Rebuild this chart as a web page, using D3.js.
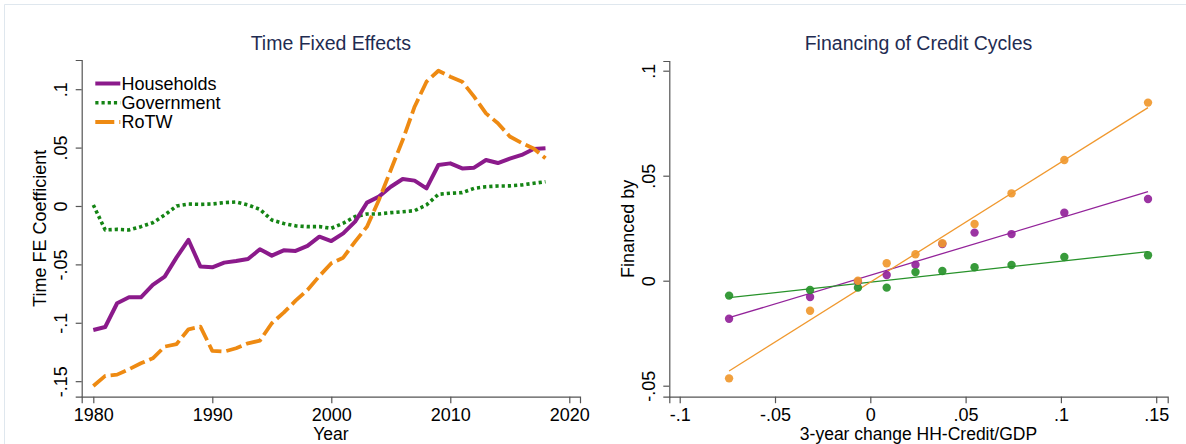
<!DOCTYPE html>
<html>
<head>
<meta charset="utf-8">
<script src="https://cdn.jsdelivr.net/npm/d3@7"></script>
<style>
  html, body { margin: 0; padding: 0; background: #fff; }
  svg { display: block; }
  text { font-family: "Liberation Sans", Arial, sans-serif; }
</style>
</head>
<body>
<svg id="chart" width="1186" height="444"></svg>
<script>
// ---------- Data: left panel (Time Fixed Effects) ----------
const years = d3.range(1980, 2019);
const households = [-0.1062, -0.1036, -0.0833, -0.0782, -0.0782, -0.0676, -0.0605, -0.0440, -0.0291, -0.0519,
  -0.0525, -0.0485, -0.0471, -0.0454, -0.0371, -0.0425, -0.0380, -0.0385, -0.0342, -0.0263,
  -0.0300, -0.0234, -0.0134, 0.0029, 0.0080, 0.0165, 0.0231, 0.0217, 0.0151, 0.0351,
  0.0365, 0.0322, 0.0328, 0.0394, 0.0368, 0.0405, 0.0437, 0.0488, 0.0494];
const government = [0.0009, -0.0205, -0.0200, -0.0205, -0.0177, -0.0143, -0.0077, 0.0000, 0.0017, 0.0014,
  0.0017, 0.0029, 0.0034, 0.0009, -0.0029, -0.0120, -0.0150, -0.0170, -0.0177, -0.0177,
  -0.0191, -0.0148, -0.0091, -0.0068, -0.0068, -0.0057, -0.0049, -0.0040, 0.0009, 0.0100,
  0.0109, 0.0114, 0.0151, 0.0165, 0.0171, 0.0172, 0.0180, 0.0194, 0.0208];
const rotw = [-0.1541, -0.1455, -0.1444, -0.1398, -0.1347, -0.1304, -0.1204, -0.1182, -0.1056, -0.1033,
  -0.1241, -0.1247, -0.1218, -0.1176, -0.1153, -0.1004, -0.0913, -0.0811, -0.0719, -0.0600,
  -0.0490, -0.0443, -0.0305, -0.0177, 0.0051, 0.0308, 0.0565, 0.0850, 0.1064, 0.1158,
  0.1107, 0.1064, 0.0936, 0.0793, 0.0708, 0.0595, 0.0540, 0.0492, 0.0408];
const leftXTicks = [1980, 1990, 2000, 2010, 2020];
const leftYTicks = [-0.15, -0.1, -0.05, 0, 0.05, 0.1];
const leftYTickLabels = ["-.15", "-.1", "-.05", "0", ".05", ".1"];
const legendLabels = ["Households", "Government", "RoTW"];

// ---------- Data: right panel (Financing of Credit Cycles) ----------
const binX = [-0.0741, -0.0316, -0.0065, 0.0086, 0.0237, 0.0378, 0.0547, 0.0741, 0.1018, 0.1457];
const binHH = [-0.0181, -0.0078, -0.0005, 0.0027, 0.0076, 0.0175, 0.0229, 0.0222, 0.0324, 0.0389];
const binGov = [-0.0071, -0.0044, -0.0033, -0.0033, 0.0041, 0.0046, 0.0064, 0.0075, 0.0113, 0.0121];
const binRoTW = [-0.0465, -0.0143, 0.0000, 0.0083, 0.0126, 0.0178, 0.0270, 0.0416, 0.0575, 0.0848];
const fitSeries = ["HH", "Gov", "RoTW"];
const fitSlopes = [0.273, 0.0996, 0.5705];
const fitIntercepts = [0.0026, -0.0007, -0.0007];
const rightXTicks = [-0.1, -0.05, 0, 0.05, 0.1, 0.15];
const rightXTickLabels = ["-.1", "-.05", "0", ".05", ".1", ".15"];
const rightYTicks = [-0.05, 0, 0.05, 0.1];
const rightYTickLabels = ["-.05", "0", ".05", ".1"];

// ---------- Styles ----------
const COLORS = { HH: "#8b1a8b", Gov: "#148414", RoTW: "#ee8a12" };
const MARKER = { HH: "#93239a", Gov: "#27922a", RoTW: "#f0982e" };
const TITLE_COLOR = "#1f2c52";
const AXIS_COLOR = "#555";
const FONT = 18;

const svg = d3.select("#chart");

// light outer frame (graph region border)
svg.append("path")
  .attr("d", "M4.5,444 L4.5,4.5 L1186,4.5")
  .attr("fill", "none").attr("stroke", "#dfe7ee").attr("stroke-width", 1);

function styleAxis(g) {
  g.selectAll("path.domain").attr("stroke", AXIS_COLOR).attr("stroke-width", 1.2);
  g.selectAll(".tick line").attr("stroke", AXIS_COLOR).attr("stroke-width", 1.2);
  g.selectAll(".tick text").attr("fill", "#000").style("font-size", FONT + "px")
    .style("font-family", '"Liberation Sans", Arial, sans-serif');
}

function rotateYLabels(g) {
  g.selectAll(".tick text")
    .attr("x", 0).attr("dy", null).attr("y", -14.7)
    .attr("text-anchor", "middle")
    .attr("transform", "rotate(-90)");
}

// ================= LEFT PANEL =================
const L = { left: 81.7, right: 580, top: 60, bottom: 396.7 };
const xL = d3.scaleLinear().domain([1979.025, 2020.9]).range([L.left, L.right]);
const yL = d3.scaleLinear().domain([-0.1633, 0.125]).range([L.bottom, L.top]);

const gLx = svg.append("g").attr("transform", `translate(0,${L.bottom})`)
  .call(d3.axisBottom(xL).tickValues(leftXTicks).tickFormat(d3.format("d")).tickSizeOuter(0).tickSize(6.5).tickPadding(4));
styleAxis(gLx);
gLx.selectAll(".tick text").attr("dy", "0.74em");

const gLy = svg.append("g").attr("transform", `translate(${L.left},0)`)
  .call(d3.axisLeft(yL).tickValues(leftYTicks).tickFormat((d, i) => leftYTickLabels[i]).tickSizeOuter(0).tickSize(6));
styleAxis(gLy);
rotateYLabels(gLy);

svg.append("text").attr("x", (L.left + L.right) / 2).attr("y", 50)
  .attr("text-anchor", "middle").attr("fill", TITLE_COLOR).style("font-size", "19.5px")
  .text("Time Fixed Effects");
svg.append("text").attr("x", (L.left + L.right) / 2).attr("y", 440.2)
  .attr("text-anchor", "middle").attr("fill", "#000").style("font-size", "17.5px")
  .text("Year");
svg.append("text").attr("transform", `translate(45.8,${(L.top + L.bottom) / 2}) rotate(-90)`)
  .attr("text-anchor", "middle").attr("fill", "#000").style("font-size", FONT + "px")
  .text("Time FE Coefficient");

const seriesL = [
  { key: "HH", vals: households, dash: null, width: 4 },
  { key: "Gov", vals: government, dash: "3.2,3", width: 3.6 },
  { key: "RoTW", vals: rotw, dash: "16,5", width: 3.8 }
];
const lineL = d3.line().x((d, i) => xL(years[i])).y(d => yL(d));
// draw order: government, households, RoTW on top
[seriesL[1], seriesL[0], seriesL[2]].forEach(s => {
  svg.append("path").datum(s.vals)
    .attr("d", lineL)
    .attr("fill", "none")
    .attr("stroke", COLORS[s.key])
    .attr("stroke-width", s.width)
    .attr("stroke-linejoin", "round")
    .attr("stroke-dasharray", s.dash);
});

// legend
const legY = [83.5, 102.8, 122];
seriesL.forEach((s, i) => {
  svg.append("line").attr("x1", 95.3).attr("x2", 120.3).attr("y1", legY[i]).attr("y2", legY[i])
    .attr("stroke", COLORS[s.key]).attr("stroke-width", s.width)
    .attr("stroke-dasharray", s.key === "RoTW" ? "19,5" : s.dash);
  svg.append("text").attr("x", 121.5).attr("y", legY[i]).attr("dy", "0.35em")
    .attr("fill", "#000").style("font-size", FONT + "px").text(legendLabels[i]);
});

// ================= RIGHT PANEL =================
const R = { left: 669.3, right: 1167.7, top: 61, bottom: 396.7 };
const xR = d3.scaleLinear().domain([-0.10546, 0.15603]).range([R.left, R.right]);
const yR = d3.scaleLinear().domain([-0.05524, 0.10462]).range([R.bottom, R.top]);

const gRx = svg.append("g").attr("transform", `translate(0,${R.bottom})`)
  .call(d3.axisBottom(xR).tickValues(rightXTicks).tickFormat((d, i) => rightXTickLabels[i]).tickSizeOuter(0).tickSize(6.5).tickPadding(4));
styleAxis(gRx);
gRx.selectAll(".tick text").attr("dy", "0.74em");

const gRy = svg.append("g").attr("transform", `translate(${R.left},0)`)
  .call(d3.axisLeft(yR).tickValues(rightYTicks).tickFormat((d, i) => rightYTickLabels[i]).tickSizeOuter(0).tickSize(6));
styleAxis(gRy);
rotateYLabels(gRy);

svg.append("text").attr("x", (R.left + R.right) / 2).attr("y", 50)
  .attr("text-anchor", "middle").attr("fill", TITLE_COLOR).style("font-size", "19.5px")
  .text("Financing of Credit Cycles");
svg.append("text").attr("x", (R.left + R.right) / 2).attr("y", 440.2)
  .attr("text-anchor", "middle").attr("fill", "#000").style("font-size", "17.5px")
  .text("3-year change HH-Credit/GDP");
svg.append("text").attr("transform", `translate(634,${(R.top + R.bottom) / 2}) rotate(-90)`)
  .attr("text-anchor", "middle").attr("fill", "#000").style("font-size", FONT + "px")
  .text("Financed by");

const binData = { HH: binHH, Gov: binGov, RoTW: binRoTW };
const xExt = d3.extent(binX);

// fitted lines
fitSeries.forEach((k, i) => {
  const pts = xExt.map(x => [x, fitIntercepts[i] + fitSlopes[i] * x]);
  svg.append("path").datum(pts)
    .attr("d", d3.line().x(d => xR(d[0])).y(d => yR(d[1])))
    .attr("fill", "none").attr("stroke", MARKER[k]).attr("stroke-width", 1.3);
});

// scatter points
["HH", "Gov", "RoTW"].forEach(k => {
  svg.append("g").selectAll("circle").data(binData[k]).join("circle")
    .attr("cx", (d, i) => xR(binX[i]))
    .attr("cy", d => yR(d))
    .attr("r", 4.2)
    .attr("fill", MARKER[k])
    .attr("fill-opacity", 0.92);
});
</script>
</body>
</html>
